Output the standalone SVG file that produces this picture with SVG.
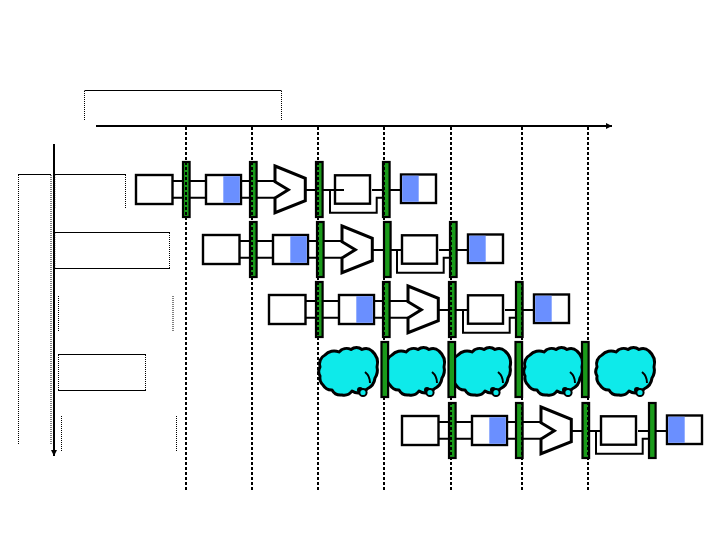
<svg xmlns="http://www.w3.org/2000/svg" xmlns:xlink="http://www.w3.org/1999/xlink" width="720" height="540" viewBox="0 0 720 540">
<style>
.b{fill:#fff;stroke:#000;stroke-width:2.4}
.blue{fill:#6a8fff}
.w{fill:none;stroke:#000;stroke-width:2}
.thin{fill:none;stroke:#000;stroke-width:1}
.dot{fill:none;stroke:#000;stroke-width:1;stroke-dasharray:1 1}
.dash{fill:none;stroke:#000;stroke-width:2;stroke-dasharray:3 2}
.ax{fill:none;stroke:#000;stroke-width:2}
.l{fill:#1a9a1a;stroke:#000;stroke-width:2.2}
.alu{fill:#fff;stroke:#000;stroke-width:3}
.c{fill:#0eeaea;stroke:#000;stroke-width:3;stroke-linejoin:round}
.ci{fill:none;stroke:#000;stroke-width:2}
.cr{fill:#0eeaea;stroke:#000;stroke-width:2}
</style>
<defs>
<marker id="ah" markerUnits="userSpaceOnUse" markerWidth="7" markerHeight="6" refX="6" refY="3" orient="auto"><path d="M0 0L6 3L0 6Z" fill="#000"/></marker>
<g id="wires">
<path class="w" d="M172 181H206M172 197.7H206M241 181H275M241 197.7H275M305 190H335M372 190H401M330 190V212.7H376.7V197.7H383"/>
</g>
<g id="latch"><rect class="l" x="0" y="0" width="6.6" height="55"/></g>
<g id="stages">
<rect class="b" x="136" y="175" width="36.5" height="29"/>
<rect class="b" x="206" y="175" width="35" height="29"/>
<rect class="blue" x="223.3" y="176.2" width="16.5" height="26.6"/>
<path class="alu" d="M275 166L305.3 178.3V200.7L275 212.7V198L288.3 189.7L275 181.7Z"/>
<rect class="b" x="335" y="175.3" width="35" height="28.4"/>
<rect class="b" x="401" y="174.5" width="35" height="28.5"/>
<rect class="blue" x="402.2" y="175.7" width="16.5" height="26.1"/>
</g>
<g id="cloud">
<path class="c" d="M320 367A10 10 0 0 1 325 355A12 12 0 0 1 339 352A10 10 0 0 1 351 349.500A9 9 0 0 1 362 349.500A9 9 0 0 1 372 351A16 16 0 0 1 377 367A14 14 0 0 1 375 378A14 14 0 0 1 367 389A11 11 0 0 1 352 391A10 10 0 0 1 342 395A10 10 0 0 1 332 390A10 10 0 0 1 323 385A10 10 0 0 1 320 376A9 9 0 0 1 320 367Z"/>
<path class="ci" d="M365 372Q370 376 370 383"/>
<circle cx="360" cy="390" r="3" fill="#000"/>
<circle class="cr" cx="363" cy="392.500" r="3.600"/>
</g>
</defs>

<g id="timeline">
<path class="thin" d="M84.5 90.500H281.500"/>
<path class="dot" d="M84.5 91V121M281.500 91V121"/>
</g>
<g id="labels">
<path class="thin" d="M18 174.500H51M54 174.500H126M54 232.500H170M54 268.500H170M58 354.500H146M58 390.500H146"/>
<path class="dot" d="M18.500 175V445M51 175V445M125.500 175V208M54.700 175V208M54.700 233V268M169.500 233V268M58.500 296V331M173 296V331M58.500 355V390M145.500 355V390M61.500 416V451M176.500 416V451"/>
</g>

<g id="connectors">
<path class="ax" d="M96 126H612" marker-end="url(#ah)"/>
<path class="ax" d="M54 144V456" marker-end="url(#ah)"/>
<use href="#wires"/>
<path class="w" d="M335 190H344"/>
<use href="#wires" transform="translate(67 60)"/>
<use href="#wires" transform="translate(133 120)"/>
<use href="#wires" transform="translate(266 241)"/>
</g>

<g id="instr1">
<use href="#stages"/>
<path class="w" d="M335 190H344"/>
<use href="#latch" x="183" y="162"/><use href="#latch" x="250" y="162"/><use href="#latch" x="316" y="162"/><use href="#latch" x="383" y="162"/>
</g>
<g id="instr2" transform="translate(67 60)">
<use href="#stages"/>
<use href="#latch" x="183" y="162"/><use href="#latch" x="250" y="162"/><use href="#latch" x="317" y="162"/><use href="#latch" x="383" y="162"/>
</g>
<g id="instr3" transform="translate(133 120)">
<use href="#stages"/>
<use href="#latch" x="183" y="162"/><use href="#latch" x="250" y="162"/><use href="#latch" x="316" y="162"/><use href="#latch" x="383" y="162"/>
</g>
<g id="instr5" transform="translate(266 241)">
<use href="#stages"/>
<use href="#latch" x="183" y="162"/><use href="#latch" x="250" y="162"/><use href="#latch" x="316.500" y="162"/><use href="#latch" x="383" y="162"/>
</g>

<g id="cycle-lines">
<path class="dash" d="M186 127V491M252 127V491M318 127V491M384 127V491M451 127V491M522 127V491M588 127V491"/>
</g>

<g id="instr4">
<use href="#cloud"/>
<use href="#cloud" x="67"/>
<use href="#cloud" x="133"/>
<use href="#cloud" x="205"/>
<use href="#cloud" x="277"/>
<use href="#latch" x="381.500" y="342"/><use href="#latch" x="448.500" y="342"/><use href="#latch" x="515.500" y="342"/><use href="#latch" x="582" y="342"/>
</g>
</svg>
